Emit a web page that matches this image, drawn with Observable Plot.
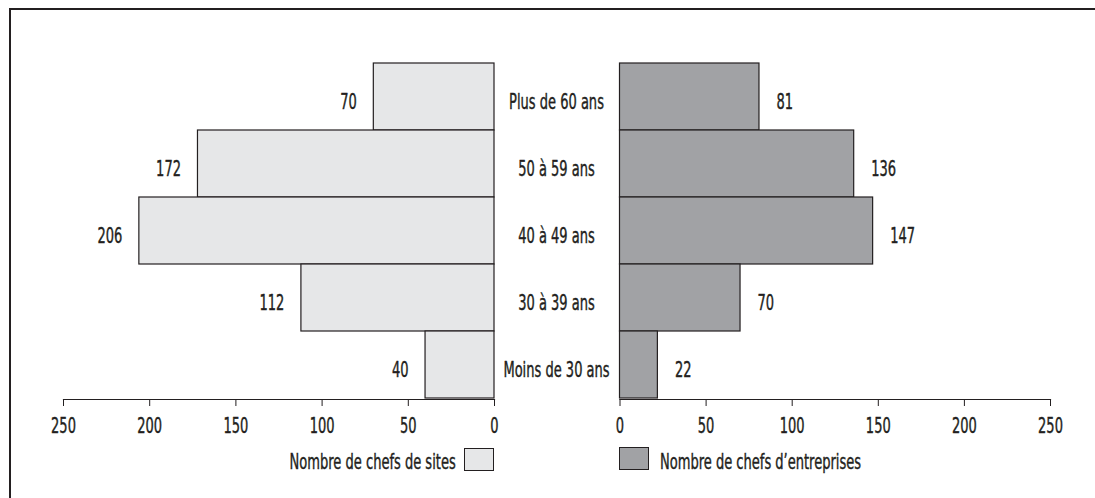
<!DOCTYPE html>
<html>
<head>
<meta charset="utf-8">
<script src="https://cdn.jsdelivr.net/npm/d3@7"></script>
<script src="https://cdn.jsdelivr.net/npm/@observablehq/plot@0.6"></script>
<style>
  html, body { margin: 0; padding: 0; background: #fff; }
  #wrap { position: relative; width: 1095px; height: 498px; overflow: hidden;
    font-family: "DejaVu Sans Condensed", "Liberation Sans Narrow", sans-serif; color: #231f20; }
  #frame { position: absolute; left: 9px; top: 8px; width: 1200px; height: 600px;
    border-top: 2px solid #231f20; border-left: 2px solid #231f20; }
  #wrap svg { position: absolute; left: 0; top: 0; background: transparent; overflow: visible; }
  .leg { position: absolute; font-size: 21px; line-height: 21px; white-space: nowrap; -webkit-text-stroke: 0.4px #231f20; }
  .sw { position: absolute; width: 28px; height: 21px; border: 1px solid #231f20; }
</style>
</head>
<body>
<div id="wrap">
  <div id="frame"></div>
</div>
<script>
const categories = ["Plus de 60 ans", "50 à 59 ans", "40 à 49 ans", "30 à 39 ans", "Moins de 30 ans"];
const sites = [70, 172, 206, 112, 40];
const entreprises = [81, 136, 147, 70, 22];
const ticks = [0, 50, 100, 150, 200, 250];
const legendSites = "Nombre de chefs de sites";
const legendEntreprises = "Nombre de chefs d’entreprises";

const leftData = categories.map((c, i) => ({cat: c, v: sites[i]}));
const rightData = categories.map((c, i) => ({cat: c, v: entreprises[i]}));

const W = 1095, H = 498;
const SX = 0.69;
const font = '"DejaVu Sans Condensed", "Liberation Sans Narrow", sans-serif';
const ink = "#231f20";
const FS = 21;

const common = {
  width: W, height: H, marginTop: 62, marginBottom: 99,
  style: {fontFamily: font, fontSize: FS + "px", color: ink, background: "transparent"},
  y: {domain: categories, padding: 0, axis: null}
};

const txt = {fill: ink, stroke: ink, strokeWidth: 0.4, fontSize: FS};

const left = Plot.plot({
  ...common,
  marginLeft: 63, marginRight: W - 494,
  x: {domain: [0, 250], reverse: true, ticks: ticks, tickSize: 7, tickPadding: 12, label: null, tickFormat: d => d},
  marks: [
    Plot.barX(leftData, {y: "cat", x: "v", fill: "#e6e7e8", stroke: ink, strokeWidth: 1.2}),
    Plot.frame({anchor: "bottom", stroke: ink, strokeWidth: 1.2}),
    Plot.text(leftData, {y: "cat", x: "v", text: d => String(d.v), textAnchor: "end", dx: -17, dy: 5, ...txt}),
    Plot.text(leftData, {y: "cat", x: 0, text: "cat", textAnchor: "middle", dx: 62, dy: 5, ...txt})
  ]
});

const right = Plot.plot({
  ...common,
  marginLeft: 619.5, marginRight: W - 1050,
  x: {domain: [0, 250], ticks: ticks, tickSize: 7, tickPadding: 12, label: null, tickFormat: d => d},
  marks: [
    Plot.barX(rightData, {y: "cat", x: "v", fill: "#a1a2a5", stroke: ink, strokeWidth: 1.2}),
    Plot.frame({anchor: "bottom", stroke: ink, strokeWidth: 1.2}),
    Plot.text(rightData, {y: "cat", x: "v", text: d => String(d.v), textAnchor: "start", dx: 17, dy: 5, ...txt})
  ]
});

// compress text horizontally to imitate a condensed typeface; thicken axis labels slightly
function squeeze(svg) {
  svg.querySelectorAll("text").forEach(t => {
    let pre = "";
    const xa = t.getAttribute("x");
    if (xa !== null && isFinite(+xa)) { pre = ` translate(${+xa},0)`; t.removeAttribute("x"); }
    const tr = t.getAttribute("transform") || "";
    t.setAttribute("transform", `${tr}${pre} scale(${SX},1)`);
  });
  svg.querySelectorAll("g[aria-label='x-axis tick label']").forEach(g => {
    g.setAttribute("stroke", ink); g.setAttribute("stroke-width", 0.4); g.setAttribute("fill", ink);
  });
}
squeeze(left); squeeze(right);

const wrap = document.getElementById("wrap");
wrap.appendChild(left);
wrap.appendChild(right);

// legends
const l1 = document.createElement("div");
l1.className = "leg"; l1.textContent = legendSites;
l1.style.right = (W - 456) + "px"; l1.style.top = "452px";
l1.style.transformOrigin = "right center"; l1.style.transform = `scaleX(${SX})`;
wrap.appendChild(l1);
const s1 = document.createElement("div");
s1.className = "sw"; s1.style.background = "#e6e7e8";
s1.style.left = "464px"; s1.style.top = "448px";
wrap.appendChild(s1);
const s2 = document.createElement("div");
s2.className = "sw"; s2.style.background = "#a1a2a5";
s2.style.left = "619px"; s2.style.top = "447px";
wrap.appendChild(s2);
const l2 = document.createElement("div");
l2.className = "leg"; l2.textContent = legendEntreprises;
l2.style.left = "660px"; l2.style.top = "452px";
l2.style.transformOrigin = "left center"; l2.style.transform = `scaleX(${SX})`;
wrap.appendChild(l2);
</script>
</body>
</html>
